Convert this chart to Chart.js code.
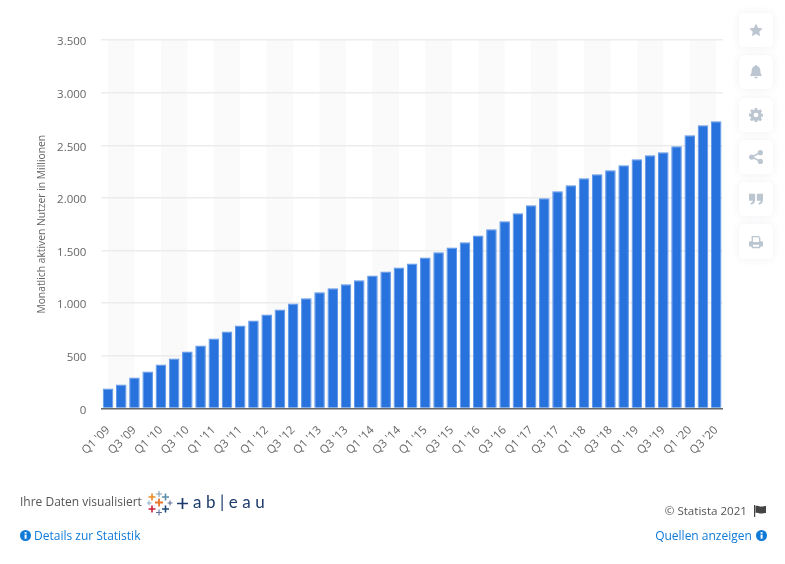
<!DOCTYPE html>
<html lang="de">
<head>
<meta charset="utf-8">
<script src="https://cdn.jsdelivr.net/npm/chart.js@4"></script>
<style>
html,body{margin:0;padding:0;background:#fff;width:785px;height:564px;overflow:hidden;font-family:"Open Sans",sans-serif}
#wrap{position:absolute;left:0;top:0;width:785px;height:564px}
canvas{position:absolute;left:0;top:0}
.t{position:absolute;font-size:12px;line-height:16px;white-space:nowrap}
.link{color:#0f7ad8}
.grey{color:#555}
.card{position:absolute;left:739px;width:34px;height:34px;background:#fff;border-radius:5px;box-shadow:0 0 8px rgba(60,80,110,.08);display:flex;align-items:center;justify-content:center}
.card svg{width:14px;height:14px;fill:#bcc6d0}
.tab{position:absolute;left:193px;top:492px;font-size:17px;line-height:20px;color:#1d3b6b;letter-spacing:4.500px;font-family:"Lato",sans-serif;white-space:nowrap}
</style>
</head>
<body>
<div id="wrap">
<canvas id="c" width="785" height="564"></canvas>

<div class="t grey" style="left:20px;top:494px">Ihre Daten visualisiert</div>
<svg style="position:absolute;left:147px;top:490px" width="26" height="26" viewBox="0 0 26 26" fill="none" stroke-width="1.6">
  <path d="M12 1v6M9 4h6" stroke="#7c9db4" stroke-width="1.1"/>
  <path d="M5 3.500v7M1.500 7h7" stroke="#ee8a22"/>
  <path d="M18.500 3.500v7M15 7h7" stroke="#5f8ea8"/>
  <path d="M12 8.500v8M8 12.500h8" stroke="#e8762d" stroke-width="1.8"/>
  <path d="M2 10.500v5M-.5 13h5" stroke="#8eb0c6" stroke-width="1"/>
  <path d="M23 10.500v5M20.500 13h5" stroke="#5d6f96" stroke-width="1.100"/>
  <path d="M5 15.500v7M1.500 19h7" stroke="#c72037"/>
  <path d="M18.500 15.500v7M15 19h7" stroke="#1f4a7a"/>
  <path d="M12 19.500v6M9 22.500h6" stroke="#5d6f96" stroke-width="1.100"/>
</svg>
<svg style="position:absolute;left:177px;top:498px" width="11" height="11" viewBox="0 0 11 11"><path d="M5.500 0v11M0 5.500h11" stroke="#1d3b6b" stroke-width="1.700"/></svg>
<div class="tab">ab|eau</div>

<div class="t link" style="left:20px;top:528px"><svg width="11" height="11" viewBox="0 0 12 12" style="vertical-align:-1px;margin-right:3px"><circle cx="6" cy="6" r="6" fill="#0f7ad8"/><rect x="5" y="5" width="2.200" height="4.500" fill="#fff"/><rect x="5" y="2.300" width="2.200" height="1.800" fill="#fff"/></svg>Details zur Statistik</div>

<div class="t grey" style="right:38px;top:503px;font-size:11.6px">© Statista 2021</div>
<svg style="position:absolute;left:754px;top:505px" width="13" height="12" viewBox="0 0 13 12"><rect x="0" y="0" width="1.200" height="12" fill="#444"/><path d="M1.500 1c3-1 4 1 6 .6 2-.3 3-.6 4.500-.6v7c-2 0-3 .6-5 .6-2 0-3-1.400-5.500-.6z" fill="#444"/></svg>

<div class="t link" style="right:18px;top:528px">Quellen anzeigen <svg width="11" height="11" viewBox="0 0 12 12" style="vertical-align:-1px;margin-left:1px"><circle cx="6" cy="6" r="6" fill="#0f7ad8"/><rect x="5" y="5" width="2.200" height="4.500" fill="#fff"/><rect x="5" y="2.300" width="2.200" height="1.800" fill="#fff"/></svg></div>

<div class="card" style="top:13px"><svg viewBox="0 0 16 16"><path d="M8 .6l2.300 4.900 5.300.7-3.900 3.700 1 5.300L8 12.600l-4.700 2.600 1-5.300L.4 6.200l5.300-.7z"/></svg></div>
<div class="card" style="top:55px"><svg viewBox="0 0 16 16"><path d="M8 0c.7 0 1.200.5 1.200 1.200C11.600 1.800 13 3.800 13 6.500c0 3.500 1.100 4.700 2.200 6H.8c1.100-1.300 2.200-2.500 2.200-6C3 3.800 4.400 1.800 6.800 1.200 6.800.5 7.300 0 8 0zM6 13.500h4a2 2 0 0 1-4 0z"/></svg></div>
<div class="card" style="top:98px"><svg viewBox="0 0 16 16"><path fill-rule="evenodd" d="M6.600 0h2.800l.4 2.200 1.200.5L12.900 1.400l2 2-1.300 1.900.5 1.200 2.200.4v2.800l-2.200.4-.5 1.200 1.300 1.900-2 2-1.900-1.300-1.200.5-.4 2.200H6.600l-.4-2.200-1.200-.5-1.900 1.300-2-2 1.300-1.900-.5-1.200L0 9.400V6.600l2.200-.4.5-1.200-1.300-1.900 2-2L5 2.700l1.200-.5zM8 5.300a2.700 2.700 0 1 0 0 5.400 2.700 2.700 0 0 0 0-5.400z"/></svg></div>
<div class="card" style="top:140px"><svg viewBox="0 0 16 16"><circle cx="3" cy="8" r="3"/><circle cx="13" cy="3" r="3"/><circle cx="13" cy="13" r="3"/><path d="M3 8l10-5M3 8l10 5" stroke="#bcc6d0" stroke-width="1.600"/></svg></div>
<div class="card" style="top:182px"><svg viewBox="0 0 16 16"><path d="M0 2h7v7c0 3-2 5-5 5.500v-2c1.500-.4 2.300-1.300 2.400-2.500H0zM9 2h7v7c0 3-2 5-5 5.500v-2c1.500-.4 2.300-1.300 2.400-2.500H9z"/></svg></div>
<div class="card" style="top:224px;height:35px"><svg viewBox="0 0 16 16"><path fill-rule="evenodd" d="M3 1h8l2 2v4h1.500A1.500 1.500 0 0 1 16 8.500V13h-3v2H3v-2H0V8.500A1.500 1.500 0 0 1 1.500 7H3zm1.500 1.500V8h7V3.700L10.400 2.500zm0 8.500v2.500h7V11z"/></svg></div>
</div>

<script>
const categories = ["Q1 '09","Q2 '09","Q3 '09","Q4 '09","Q1 '10","Q2 '10","Q3 '10","Q4 '10","Q1 '11","Q2 '11","Q3 '11","Q4 '11","Q1 '12","Q2 '12","Q3 '12","Q4 '12","Q1 '13","Q2 '13","Q3 '13","Q4 '13","Q1 '14","Q2 '14","Q3 '14","Q4 '14","Q1 '15","Q2 '15","Q3 '15","Q4 '15","Q1 '16","Q2 '16","Q3 '16","Q4 '16","Q1 '17","Q2 '17","Q3 '17","Q4 '17","Q1 '18","Q2 '18","Q3 '18","Q4 '18","Q1 '19","Q2 '19","Q3 '19","Q4 '19","Q1 '20","Q2 '20","Q3 '20"];
const users = [190,228,295,351,418,475,542,599,665,732,789,836,893,941,998,1046,1103,1141,1179,1217,1264,1302,1340,1378,1435,1483,1530,1578,1644,1702,1778,1854,1930,1996,2063,2120,2186,2224,2262,2310,2367,2405,2434,2491,2595,2690,2728];
const yTicks = [0,500,1000,1500,2000,2500,3000,3500];
const yTitle = "Monatlich aktiven Nutzer in Millionen";

const bands = {
  id: 'bands',
  beforeDraw(chart) {
    const {ctx, scales:{x, y}} = chart;
    ctx.save();
    ctx.fillStyle = '#fafafa';
    for (let i = 0; i + 2 < categories.length; i += 4) {
      const a = x.getPixelForValue(i), b = x.getPixelForValue(i + 2);
      ctx.fillRect(a, y.top, b - a, y.bottom - y.top);
    }
    ctx.restore();
  }
};

const fmt = v => String(v).replace(/\B(?=(\d{3})+$)/g, '.');

new Chart(document.getElementById('c'), {
  type: 'bar',
  data: {
    labels: categories,
    datasets: [{
      data: users,
      backgroundColor: '#2872dd',
      borderColor: '#5c95e8',
      borderWidth: 1,
      barPercentage: 0.8,
      categoryPercentage: 1
    }]
  },
  options: {
    responsive: false,
    animation: false,
    devicePixelRatio: 1,
    layout: { padding: { left: 35.4, right: 62.2, top: 40, bottom: 0 } },
    plugins: { legend: { display: false }, tooltip: { enabled: false }, title: { display: false } },
    scales: {
      x: {
        type: 'category',
        afterFit(s) { s.height = 155.5; },
        grid: { display: false },
        border: { color: '#666', width: 1.5 },
        ticks: {
          autoSkip: false,
          minRotation: 45,
          maxRotation: 45,
          padding: 7,
          color: '#666',
          font: { family: '"Open Sans"', size: 11.5 },
          callback(v, i) { return i % 2 === 0 ? categories[i] : ''; }
        }
      },
      y: {
        min: 0,
        max: 3500,
        afterFit(s) { s.width = 66; },
        afterBuildTicks(s) { s.ticks = yTicks.map(value => ({ value })); },
        grid: { color: '#ececec', lineWidth: 1.5, drawTicks: false },
        border: { display: false },
        title: {
          display: true,
          text: yTitle,
          color: '#666',
          font: { family: '"Open Sans"', size: 10.3 },
          padding: 0
        },
        ticks: {
          padding: 15,
          color: '#666',
          font: { family: '"Open Sans"', size: 11.5, lineHeight: '4px' },
          callback: v => ['', fmt(v)]
        }
      }
    }
  },
  plugins: [bands]
});
</script>
</body>
</html>
